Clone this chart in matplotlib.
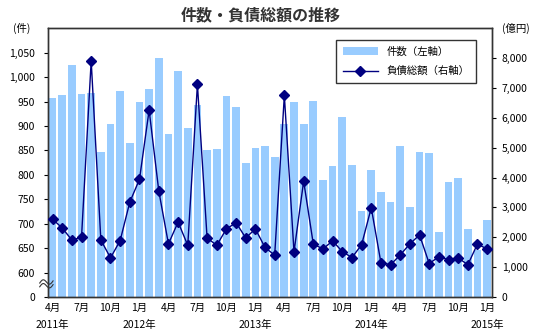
import matplotlib
matplotlib.use('Agg')
import matplotlib.pyplot as plt
import numpy as np
from matplotlib.patches import Patch
from matplotlib.lines import Line2D

plt.rcParams['font.family'] = ['Noto Sans CJK JP', 'DejaVu Sans']

# monthly data, Apr 2011 - Jan 2015
counts = [957, 963, 1024, 965, 968, 846, 905, 971, 865, 950,
          975, 1040, 883, 1012, 896, 942, 850, 852, 961, 938,
          824, 855, 859, 836, 905, 950, 905, 952, 789, 818,
          918, 820, 726, 809, 765, 744, 859, 734, 846, 844,
          683, 785, 793, 690, 647, 707]
debt = [2610, 2310, 1910, 2000, 7910, 1910, 1310, 1890, 3180, 3940,
        6260, 3550, 1780, 2510, 1730, 7120, 1980, 1730, 2280, 2490,
        1980, 2280, 1660, 1400, 6750, 1510, 3880, 1770, 1610, 1880,
        1520, 1320, 1750, 2990, 1150, 1080, 1410, 1780, 2080, 1120,
        1350, 1250, 1310, 1080, 1780, 1600]
month_labels = ['4月', '7月', '10月', '1月'] * 3 + ['4月', '7月', '10月', '1月']
year_labels = ['2011年', '2012年', '2013年', '2014年', '2015年']
year_pos = [0, 9, 21, 33, 45]

left_ticks = [550, 600, 650, 700, 750, 800, 850, 900, 950, 1000, 1050]
left_labels = ['0', '600', '650', '700', '750', '800', '850', '900', '950', '1,000', '1,050']
right_ticks = list(range(0, 9000, 1000))

x = np.arange(len(counts))

fig = plt.figure(figsize=(5.35, 3.32), dpi=100)
ax = fig.add_axes([0.0892, 0.1054, 0.8304, 0.8094])
ax.bar(x, counts, width=0.8, color='#99ccff', zorder=2)
ax.set_xlim(-0.5, len(counts) - 0.5)
ax.set_ylim(550, 1100)
ax.set_yticks(left_ticks)
ax.set_yticklabels(left_labels)
ax.set_xticks(x[::3])
ax.set_xticklabels(month_labels)
ax.tick_params(axis='y', direction='out', length=3, pad=6, labelsize=7.5, width=0.8)
ax.tick_params(axis='x', length=0, pad=4, labelsize=7.5)

ax2 = ax.twinx()
ax2.plot(x, debt, color='#000080', lw=1.0, marker='D', markersize=4.8, zorder=3)
ax2.set_ylim(0, 9000)
ax2.set_yticks(right_ticks)
ax2.set_yticklabels([f'{v:,}' for v in right_ticks])
ax2.tick_params(axis='y', direction='out', length=3, pad=4, labelsize=7.5, width=0.8)

for a in (ax, ax2):
    for s in a.spines.values():
        s.set_color('#333333')
        s.set_linewidth(1.0)

for p, lab in zip(year_pos, year_labels):
    ax.text(p, -0.105, lab, transform=ax.get_xaxis_transform(), ha='center', va='center', fontsize=7.5)

# axis break mark
t = np.linspace(0, 1, 30)
wx = -0.018 + 0.03 * t
for off in (0.038, 0.052):
    wy = off + 0.01 * np.sin(2 * np.pi * t) + 0.008 * t
    ax.plot(wx, wy, color='#333333', lw=0.8, transform=ax.transAxes, clip_on=False, zorder=5)

fig.text(0.487, 0.955, '件数・負債総額の推移', ha='center', va='center', fontsize=11.5, fontweight='bold', color='#333333')
fig.text(0.04, 0.915, '(件)', ha='center', va='center', fontsize=7.5)
fig.text(0.965, 0.915, '(億円)', ha='center', va='center', fontsize=7.5)

handles = [Patch(facecolor='#99ccff', edgecolor='none'),
           Line2D([0], [0], color='#000080', lw=1.0, marker='D', markersize=4.8)]
leg = ax2.legend(handles, ['件数（左軸）', '負債総額（右軸）'], loc='upper right',
                 bbox_to_anchor=(0.975, 0.975), fontsize=7.5, frameon=True, fancybox=False,
                 edgecolor='black', handlelength=3.4, borderpad=0.6, labelspacing=0.9)
leg.get_frame().set_linewidth(1.0)

fig.savefig('out.png', dpi=100)
